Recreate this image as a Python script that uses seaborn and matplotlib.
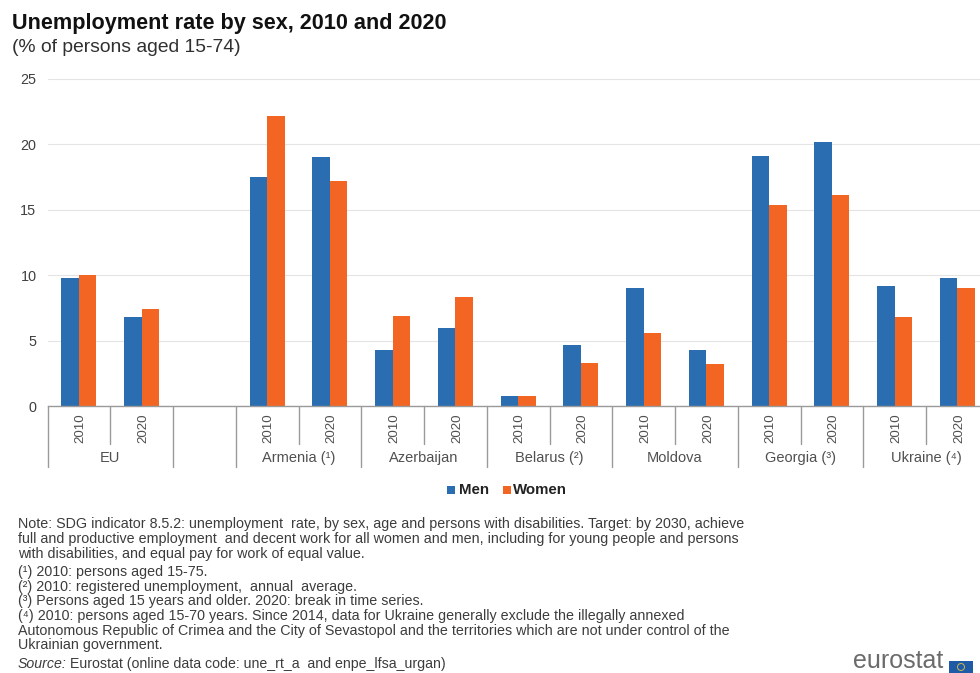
import matplotlib
matplotlib.use("Agg")
import matplotlib.pyplot as plt
from matplotlib.patches import Circle, Rectangle
import pandas as pd
import seaborn as sns

groups = ["EU", "", "Armenia (¹)", "Azerbaijan", "Belarus (²)", "Moldova", "Georgia (³)", "Ukraine (⁴)"]
years = ["2010", "2020"]
men = [9.8, 6.8, None, 17.5, 19.0, 4.3, 6.0, 0.8, 4.7, 9.0, 4.3, 19.1, 20.2, 9.2, 9.8]
women = [10.0, 7.4, None, 22.2, 17.2, 6.9, 8.3, 0.8, 3.3, 5.6, 3.2, 15.4, 16.1, 6.8, 9.0]
slots = ["EU 2010", "EU 2020", "blank", "AM 2010", "AM 2020", "AZ 2010", "AZ 2020", "BY 2010", "BY 2020",
         "MD 2010", "MD 2020", "GE 2010", "GE 2020", "UA 2010", "UA 2020"]
yticks = [0, 5, 10, 15, 20, 25]
colors = {"Men": "#2a6db0", "Women": "#f26522"}

title = "Unemployment rate by sex, 2010 and 2020"
subtitle = "(% of persons aged 15-74)"
notes = [
    (524, "Note: SDG indicator 8.5.2: unemployment  rate, by sex, age and persons with disabilities. Target: by 2030, achieve"),
    (539, "full and productive employment  and decent work for all women and men, including for young people and persons"),
    (554, "with disabilities, and equal pay for work of equal value."),
    (572, "(¹) 2010: persons aged 15-75."),
    (587, "(²) 2010: registered unemployment,  annual  average."),
    (601, "(³) Persons aged 15 years and older. 2020: break in time series."),
    (616, "(⁴) 2010: persons aged 15-70 years. Since 2014, data for Ukraine generally exclude the illegally annexed"),
    (631, "Autonomous Republic of Crimea and the City of Sevastopol and the territories which are not under control of the"),
    (645, "Ukrainian government."),
]

sns.set_theme(style="white", rc={"font.family": ["Liberation Sans", "DejaVu Sans"]})
W, H = 980, 673
fig = plt.figure(figsize=(W / 100, H / 100), dpi=100)
SLOT = 62.75
L, R = 47.5, 47.5 + SLOT * len(slots)
TOP, BOT = 79, 406
ax = fig.add_axes([L / W, 1 - BOT / H, (R - L) / W, (BOT - TOP) / H])

df = pd.DataFrame({"slot": slots * 2, "sex": ["Men"] * len(slots) + ["Women"] * len(slots),
                   "value": men + women})
sns.barplot(data=df, x="slot", y="value", hue="sex", order=slots, palette=colors,
            width=0.56, gap=0, saturation=1, linewidth=0, ax=ax, legend=False, zorder=3)
ax.set_xlim(-0.5, len(slots) - 0.5)
ax.set_ylim(0, 25)
ax.set_yticks(yticks)
ax.set_xticks([])
ax.set_xlabel("")
ax.set_ylabel("")
ax.tick_params(axis="y", length=0, labelsize=10.4, labelcolor="#404040", pad=8)
ax.grid(axis="y", color="#e4e4e4", lw=0.8, zorder=0)
ax.set_axisbelow(True)
for s in ["top", "right", "left"]:
    ax.spines[s].set_visible(False)
ax.spines["bottom"].set_color("#9a9a9a")
ax.spines["bottom"].set_linewidth(1.0)
ax.spines["bottom"].set_zorder(5)

trans = ax.get_xaxis_transform()
short, long_ = -(444 - 406) / 327, -(467 - 406) / 327
ylab, glab = -(428 - 406) / 327, -(458 - 406) / 327
long_edges = {0, 2, 3, 5, 7, 9, 11, 13}
for i in range(len(slots)):
    d = long_ if i in long_edges else short
    ax.plot([i - 0.5, i - 0.5], [0, d], transform=trans, color="#9a9a9a", lw=1.0, clip_on=False)
    if slots[i] != "blank":
        ax.text(i, ylab, slots[i].split()[1], transform=trans, rotation=90, ha="center",
                va="center_baseline", rotation_mode="anchor", fontsize=9.6, color="#505050")

pos = 0
for g in groups:
    n = 1 if g == "" else 2
    if g:
        ax.text(pos + (n - 1) / 2, glab, g, transform=trans, ha="center", va="center",
                fontsize=10.5, color="#505050")
    pos += n


def px_text(x, y, s, **kw):
    kw.setdefault("va", "center")
    return fig.text(x / W, 1 - y / H, s, **kw)


px_text(12, 24, title, fontsize=15.6, fontweight="bold", color="#111111")
px_text(12, 47, subtitle, fontsize=13.9, color="#303030")

for name, hx, tx in [("Men", 447, 459), ("Women", 503, 513)]:
    fig.add_artist(Rectangle((hx / W, 1 - 494 / H), 8 / W, 8 / H, transform=fig.transFigure,
                             color=colors[name], lw=0))
    px_text(tx, 490, name, fontsize=10.8, fontweight="bold", color="#222222")

for y, line in notes:
    px_text(18, y, line, fontsize=10.3, color="#3c3c3c")

t = px_text(18, 664, "Source:", fontsize=10.2, style="italic", color="#3c3c3c")
fig.canvas.draw()
x_end = t.get_window_extent().x1
px_text(x_end + 3, 664, "Eurostat (online data code: une_rt_a  and enpe_lfsa_urgan)", fontsize=10.2, color="#3c3c3c")

px_text(853, 672.5, "eurostat", fontsize=18, color="#6b6b6b", va="bottom")
fig.add_artist(Rectangle((949 / W, 1 - 673 / H), 24 / W, 12 / H, transform=fig.transFigure,
                         color="#1f5aa6", lw=0))
fig.add_artist(Circle((961, H - 667), 3.5, transform=None, fill=False, ec="#c9b84a", lw=0.7))

fig.savefig("out.png", dpi=100, facecolor="white")
